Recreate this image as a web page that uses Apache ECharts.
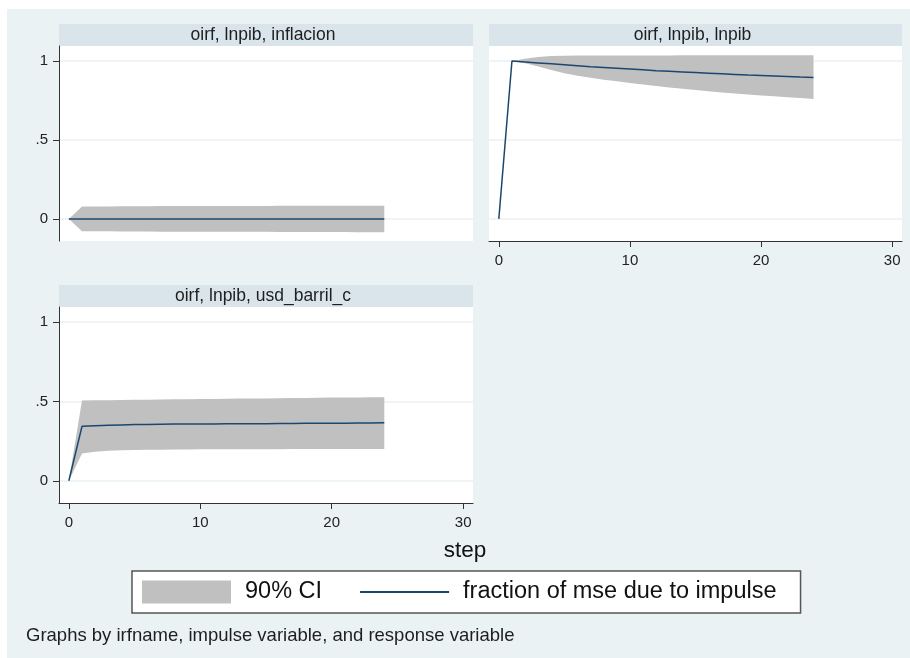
<!DOCTYPE html>
<html>
<head>
<meta charset="utf-8">
<script src="https://cdn.jsdelivr.net/npm/echarts@6/dist/echarts.min.js"></script>
<style>
html,body{margin:0;padding:0;background:#fff;}
#chart{width:910px;height:658px;}
</style>
</head>
<body>
<div id="chart"></div>
<script>
// ---------- data ----------
const steps = [0,1,2,3,4,5,6,7,8,9,10,11,12,13,14,15,16,17,18,19,20,21,22,23,24];

const panelTitles = ['oirf, lnpib, inflacion', 'oirf, lnpib, lnpib', 'oirf, lnpib, usd_barril_c'];

// panel 1: impulse lnpib -> response inflacion
const fevd1  = [0,0,0,0,0,0,0,0,0,0,0,0,0,0,0,0,0,0,0,0,0,0,0,0,0];
const upper1 = [0,0.078,0.079,0.079,0.080,0.080,0.080,0.081,0.081,0.081,0.081,0.082,0.082,0.082,0.082,0.082,0.083,0.083,0.083,0.083,0.083,0.083,0.084,0.084,0.084];
const lower1 = [0,-0.078,-0.079,-0.079,-0.080,-0.080,-0.080,-0.081,-0.081,-0.081,-0.081,-0.082,-0.082,-0.082,-0.082,-0.082,-0.083,-0.083,-0.083,-0.083,-0.083,-0.083,-0.084,-0.084,-0.084];

// panel 2: impulse lnpib -> response lnpib
const fevd2  = [0,1.000,0.994,0.988,0.982,0.976,0.970,0.964,0.959,0.954,0.949,0.944,0.939,0.935,0.931,0.927,0.923,0.919,0.915,0.911,0.908,0.905,0.902,0.898,0.895];
const upper2 = [0,1.000,1.015,1.026,1.032,1.034,1.035,1.035,1.035,1.035,1.035,1.035,1.035,1.035,1.036,1.036,1.036,1.036,1.036,1.036,1.036,1.036,1.036,1.036,1.036];
const lower2 = [0,1.000,0.985,0.965,0.943,0.923,0.907,0.894,0.882,0.871,0.861,0.851,0.841,0.832,0.824,0.816,0.808,0.801,0.794,0.788,0.782,0.776,0.770,0.765,0.760];

// panel 3: impulse lnpib -> response usd_barril_c
const fevd3  = [0,0.343,0.347,0.350,0.352,0.354,0.355,0.356,0.357,0.357,0.358,0.358,0.359,0.359,0.360,0.360,0.361,0.361,0.362,0.362,0.363,0.363,0.364,0.364,0.365];
const upper3 = [0,0.506,0.507,0.508,0.509,0.510,0.511,0.512,0.513,0.514,0.515,0.516,0.517,0.518,0.519,0.519,0.520,0.521,0.522,0.523,0.524,0.525,0.525,0.526,0.527];
const lower3 = [0,0.172,0.183,0.189,0.192,0.194,0.195,0.196,0.197,0.197,0.198,0.198,0.198,0.199,0.199,0.199,0.199,0.200,0.200,0.200,0.200,0.200,0.201,0.201,0.201];

const xTicks = [0,10,20,30];
const yTicks = [0,0.5,1];
const yTickLabels = {'0':'0','0.5':'.5','1':'1'};

const ciName = '90% CI';
const lineName = 'fraction of mse due to impulse';
const xTitle = 'step';
const note = 'Graphs by irfname, impulse variable, and response variable';

// ---------- styles ----------
const FONT = "'Liberation Sans', Arial, sans-serif";
const BG = '#eaf2f3';
const STRIP = '#d9e5eb';
const NAVY = '#1a476f';
const CI = '#c0c0c0';
const AXIS = '#333333';

const grids = [
  {left:59, top:46, width:414, height:195},
  {left:489, top:46, width:413, height:195},
  {left:59, top:307, width:414, height:196}
];
const showY = [true,false,true];
const showX = [false,true,true];

function bandRenderer(lo, hi){
  return function(params, api){
    if (params.dataIndex !== 0) return;
    const pts = [];
    for (let i=0;i<steps.length;i++) pts.push(api.coord([steps[i], hi[i]]));
    for (let i=steps.length-1;i>=0;i--) pts.push(api.coord([steps[i], lo[i]]));
    return {type:'polygon', shape:{points:pts}, style:{fill:api.visual('color'), stroke:null}};
  };
}

const xAxes = grids.map((g,i)=>({
  type:'value', gridIndex:i, min:-0.75, max:30.75,
  axisLine:{show:showX[i], onZero:false, lineStyle:{color:AXIS, width:1}},
  axisTick:{show:showX[i], customValues:xTicks, length:6, lineStyle:{color:AXIS}},
  axisLabel:{show:showX[i], customValues:xTicks, fontFamily:FONT, fontSize:15, color:'#222', margin:12},
  splitLine:{show:false}
}));
const yAxes = grids.map((g,i)=>({
  type:'value', gridIndex:i, min:-0.14, max:1.095,
  axisLine:{show:showY[i], onZero:false, lineStyle:{color:AXIS, width:1}},
  axisTick:{show:showY[i], customValues:yTicks, length:6, lineStyle:{color:AXIS}},
  axisLabel:{show:showY[i], customValues:yTicks, fontFamily:FONT, fontSize:15, color:'#222', margin:11,
             formatter:v=>yTickLabels[String(v)] ?? String(v)},
  splitLine:{show:true, lineStyle:{color:BG, width:1.5}}
}));

const fevds = [fevd1,fevd2,fevd3];
const uppers = [upper1,upper2,upper3];
const lowers = [lower1,lower2,lower3];
const series = [];
for (let i=0;i<3;i++){
  series.push({
    type:'custom', name:ciName, xAxisIndex:i, yAxisIndex:i,
    itemStyle:{color:CI}, silent:true, z:2,
    renderItem:bandRenderer(lowers[i], uppers[i]),
    data:[[0,0]]
  });
  series.push({
    type:'line', name:lineName, xAxisIndex:i, yAxisIndex:i,
    data:steps.map((s,k)=>[s,fevds[i][k]]),
    showSymbol:false, symbol:'none', silent:true, z:3,
    lineStyle:{color:NAVY, width:1.5}, itemStyle:{color:NAVY}
  });
}

const graphics = [
  {type:'rect', z:-100, shape:{x:7,y:9,width:903,height:649}, style:{fill:BG}, silent:true}
];
const stripPos = [{x:59,y:24,w:414},{x:489,y:24,w:413},{x:59,y:285,w:414}];
stripPos.forEach((s,i)=>{
  graphics.push({type:'rect', z:-50, shape:{x:s.x,y:s.y,width:s.w,height:22}, style:{fill:STRIP}, silent:true});
  graphics.push({type:'text', z:10, x:s.x+s.w/2-3, y:s.y+11, silent:true,
    style:{text:panelTitles[i], font:'17.5px '+FONT, fill:'#1e1e1e', textAlign:'center', textVerticalAlign:'middle'}});
});
graphics.push({type:'text', z:10, x:465, y:551, silent:true,
  style:{text:xTitle, font:'22.5px '+FONT, fill:'#111', textAlign:'center', textVerticalAlign:'middle'}});
graphics.push({type:'text', z:10, x:26, y:636, silent:true,
  style:{text:note, font:'18.5px '+FONT, fill:'#1e1e1e', textAlign:'left', textVerticalAlign:'middle'}});

const chart = echarts.init(document.getElementById('chart'), null, {renderer:'canvas'});
chart.setOption({
  animation:false,
  backgroundColor:'#ffffff',
  grid:grids.map(g=>Object.assign({show:true, backgroundColor:'#ffffff', borderWidth:0, containLabel:false}, g)),
  xAxis:xAxes,
  yAxis:yAxes,
  legend:{
    left:132, top:571, orient:'horizontal',
    padding:[9,24,9,10],
    backgroundColor:'#ffffff', borderColor:'#555555', borderWidth:1.5, borderRadius:0,
    itemWidth:89, itemHeight:23, itemGap:37,
    selectedMode:false,
    textStyle:{fontFamily:FONT, fontSize:23.5, color:'#111', padding:[0,0,0,9]},
    data:[
      {name:ciName, icon:'rect'},
      {name:lineName, itemStyle:{opacity:0, color:'rgba(0,0,0,0)', borderWidth:0}, lineStyle:{color:NAVY, width:2}}
    ]
  },
  graphic:graphics,
  series:series
});
</script>
</body>
</html>
